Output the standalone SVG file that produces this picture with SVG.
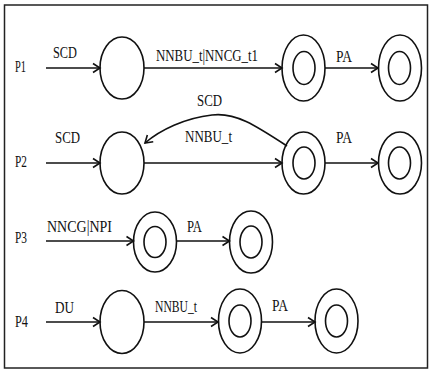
<svg xmlns="http://www.w3.org/2000/svg" width="430" height="371" viewBox="0 0 430 371">
<style>
  text { font-family: "Liberation Serif", "Times New Roman", serif; font-size: 16.5px; fill: #111; }
  .st { fill: none; stroke: #111; stroke-width: 1.6; }
  .ar { fill: none; stroke: #111; stroke-width: 1.6; marker-end: url(#arr); }
  .frame { fill: #fff; stroke: #222; stroke-width: 1.5; }
</style>
<defs>
  <marker id="arr" markerUnits="userSpaceOnUse" markerWidth="12" markerHeight="12" refX="9" refY="6" orient="auto">
    <path d="M2,1.5 L9,6 L2,10.5" fill="none" stroke="#111" stroke-width="1.6"/>
  </marker>
</defs>
<rect class="frame" x="4.5" y="5" width="423" height="363"/>

<g id="row-labels">
  <text x="15" y="72" textLength="11" lengthAdjust="spacingAndGlyphs">P1</text>
  <text x="15" y="167" textLength="12" lengthAdjust="spacingAndGlyphs">P2</text>
  <text x="15" y="243" textLength="12" lengthAdjust="spacingAndGlyphs">P3</text>
  <text x="15" y="327" textLength="13" lengthAdjust="spacingAndGlyphs">P4</text>
</g>

<g id="connectors">
  <line class="ar" x1="46" y1="68" x2="100" y2="68"/>
  <line class="ar" x1="144" y1="68" x2="282" y2="68" stroke-width="2"/>
  <line class="ar" x1="325" y1="68" x2="378" y2="68"/>

  <line class="ar" x1="46" y1="163" x2="100" y2="163"/>
  <line class="ar" x1="144" y1="163" x2="282" y2="163"/>
  <path class="ar" d="M287,146 C255,125 235,112 212,115 C185,118 160,130 145,143"/>
  <line class="ar" x1="325" y1="163" x2="378" y2="163"/>

  <line class="ar" x1="46" y1="241" x2="133.5" y2="241"/>
  <line class="ar" x1="176.5" y1="241" x2="229.5" y2="241"/>

  <line class="ar" x1="46" y1="322" x2="100" y2="322"/>
  <line class="ar" x1="144" y1="322" x2="218" y2="322"/>
  <line class="ar" x1="261.5" y1="322" x2="315" y2="322"/>

  <text x="53" y="58" textLength="24" lengthAdjust="spacingAndGlyphs">SCD</text>
  <text x="156" y="61" textLength="102" lengthAdjust="spacingAndGlyphs">NNBU_t|NNCG_t1</text>
  <text x="336" y="62" textLength="16" lengthAdjust="spacingAndGlyphs">PA</text>

  <text x="55" y="143" textLength="25" lengthAdjust="spacingAndGlyphs">SCD</text>
  <text x="197" y="106" textLength="25" lengthAdjust="spacingAndGlyphs">SCD</text>
  <text x="185" y="142" textLength="47" lengthAdjust="spacingAndGlyphs">NNBU_t</text>
  <text x="336" y="143" textLength="16" lengthAdjust="spacingAndGlyphs">PA</text>

  <text x="47" y="232" textLength="65" lengthAdjust="spacingAndGlyphs">NNCG|NPI</text>
  <text x="187" y="232" textLength="15" lengthAdjust="spacingAndGlyphs">PA</text>

  <text x="55" y="313" textLength="19" lengthAdjust="spacingAndGlyphs">DU</text>
  <text x="155" y="312" textLength="42" lengthAdjust="spacingAndGlyphs">NNBU_t</text>
  <text x="272" y="311" textLength="16" lengthAdjust="spacingAndGlyphs">PA</text>
</g>

<g id="p1-s0"><ellipse class="st" cx="122" cy="68" rx="22" ry="31"/></g>
<g id="p1-s1"><ellipse class="st" cx="303.5" cy="68" rx="21.5" ry="33"/><ellipse class="st" cx="304" cy="68" rx="11" ry="16.5"/></g>
<g id="p1-s2"><ellipse class="st" cx="400" cy="68" rx="21.5" ry="33"/><ellipse class="st" cx="399.5" cy="68" rx="11" ry="16.5"/></g>

<g id="p2-s0"><ellipse class="st" cx="122" cy="163" rx="22" ry="31"/></g>
<g id="p2-s1"><ellipse class="st" cx="303.5" cy="163" rx="21.5" ry="31"/><ellipse class="st" cx="304" cy="163" rx="11" ry="16"/></g>
<g id="p2-s2"><ellipse class="st" cx="400" cy="163" rx="21.5" ry="31"/><ellipse class="st" cx="399.5" cy="163" rx="11" ry="16"/></g>

<g id="p3-s0"><ellipse class="st" cx="155" cy="242" rx="21.5" ry="30"/><ellipse class="st" cx="155" cy="242" rx="11" ry="15.5"/></g>
<g id="p3-s1"><ellipse class="st" cx="251" cy="242" rx="21.5" ry="31"/><ellipse class="st" cx="251" cy="242" rx="11" ry="16"/></g>

<g id="p4-s0"><ellipse class="st" cx="122" cy="322" rx="22" ry="31.5"/></g>
<g id="p4-s1"><ellipse class="st" cx="240" cy="321" rx="21.5" ry="32"/><ellipse class="st" cx="240" cy="321" rx="11" ry="16"/></g>
<g id="p4-s2"><ellipse class="st" cx="336.5" cy="321" rx="21.5" ry="32"/><ellipse class="st" cx="336.5" cy="321" rx="11" ry="16"/></g>
</svg>
